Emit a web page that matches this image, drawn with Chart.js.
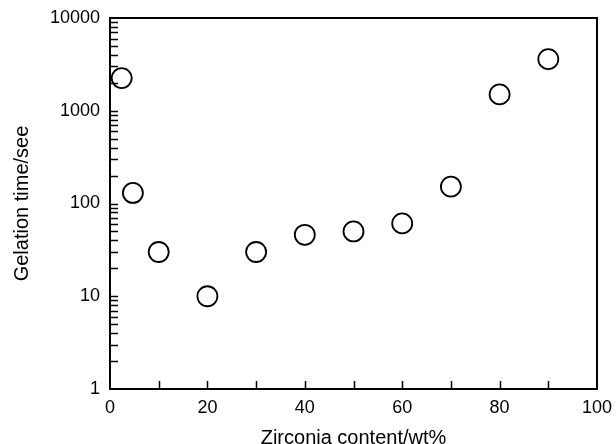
<!DOCTYPE html>
<html>
<head>
<meta charset="utf-8">
<script src="https://cdn.jsdelivr.net/npm/chart.js@4/dist/chart.umd.min.js"></script>
<style>
  html, body { margin: 0; padding: 0; background: #fff; }
  #wrap { width: 616px; height: 444px; }
</style>
</head>
<body>
<div id="wrap"><canvas id="chartGelation"></canvas></div>
<script>
  // Gelation time vs zirconia content (log y)
  const zirconia = [2.4, 4.7, 10, 20, 30, 40, 50, 60, 70, 80, 90];
  const gelTime  = [2250, 130, 30, 10, 30, 46, 50, 61, 152, 1500, 3600];

  const xLabelTicks = [0, 20, 40, 60, 80, 100];
  const xTickMarks  = [10, 20, 30, 40, 50, 60, 70, 80, 90];
  const yLabelTicks = [1, 10, 100, 1000, 10000];

  const FONT = "'Liberation Sans', Arial, sans-serif";

  // frame + inward tick marks (major and minor log ticks)
  const framePlugin = {
    id: "frame",
    afterDraw(chart) {
      const { ctx, chartArea: a, scales: { x, y } } = chart;
      const len = 8;
      ctx.save();
      ctx.strokeStyle = "#000";
      ctx.lineWidth = 1.5;
      ctx.beginPath();
      xTickMarks.forEach(v => {
        const px = Math.round(x.getPixelForValue(v)) + 0.5;
        ctx.moveTo(px, a.bottom);
        ctx.lineTo(px, a.bottom - len);
      });
      for (let d = 0; d < 4; d++) {
        for (let m = 1; m <= 9; m++) {
          const v = m * Math.pow(10, d);
          if (v === 1) continue;
          const py = Math.round(y.getPixelForValue(v)) + 0.5;
          ctx.moveTo(a.left, py);
          ctx.lineTo(a.left + len, py);
        }
      }
      ctx.stroke();
      ctx.lineWidth = 2;
      ctx.strokeRect(a.left, a.top, a.right - a.left, a.bottom - a.top);
      ctx.restore();
    }
  };

  new Chart(document.getElementById("chartGelation"), {
    type: "scatter",
    data: {
      datasets: [{
        data: zirconia.map((v, i) => ({ x: v, y: gelTime[i] })),
        pointRadius: 10,
        pointHoverRadius: 10,
        pointBackgroundColor: "rgba(255,255,255,0)",
        pointBorderColor: "#000",
        pointBorderWidth: 1.8
      }]
    },
    options: {
      responsive: true,
      maintainAspectRatio: false,
      animation: false,
      layout: { padding: { left: 0, right: 19, top: 18, bottom: 0 } },
      plugins: { legend: { display: false }, tooltip: { enabled: false } },
      scales: {
        x: {
          type: "linear",
          min: 0, max: 100,
          afterBuildTicks: s => { s.ticks = xLabelTicks.map(v => ({ value: v })); },
          afterFit: s => { s.height = 55; s.paddingLeft = 0; s.paddingRight = 0; },
          grid: { display: false, drawTicks: false },
          border: { display: false },
          ticks: { color: "#000", font: { family: FONT, size: 18 }, padding: 8, maxRotation: 0 },
          title: {
            display: true, text: "Zirconia content/wt%",
            color: "#000", font: { family: FONT, size: 20, lineHeight: 0.6 },
            padding: { top: 0, bottom: 0 }
          }
        },
        y: {
          type: "logarithmic",
          min: 1, max: 10000,
          afterBuildTicks: s => { s.ticks = yLabelTicks.map(v => ({ value: v })); },
          afterFit: s => { s.width = 110; s.paddingTop = 0; s.paddingBottom = 0; },
          grid: { display: false, drawTicks: false },
          border: { display: false },
          ticks: {
            color: "#000", font: { family: FONT, size: 18 }, padding: 10,
            callback: v => String(v)
          },
          title: {
            display: true, text: "Gelation time/see",
            color: "#000", font: { family: FONT, size: 20 }, padding: { top: 10, bottom: 4 }
          }
        }
      }
    },
    plugins: [framePlugin]
  });
</script>
</body>
</html>
